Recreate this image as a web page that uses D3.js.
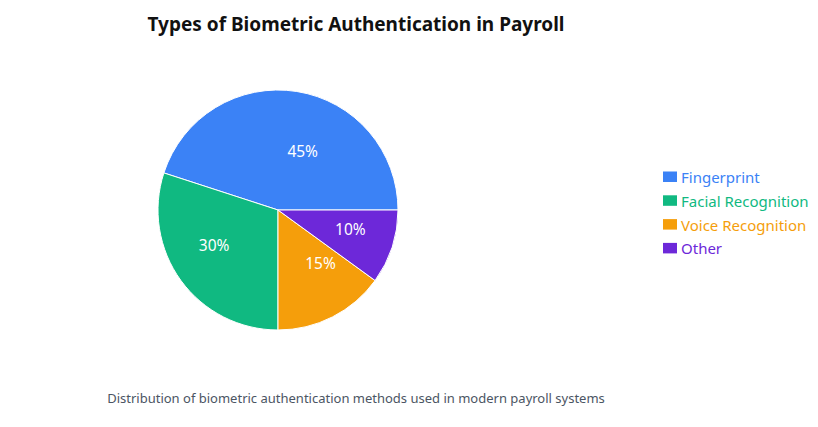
<!DOCTYPE html>
<html>
<head>
<meta charset="utf-8">
<script src="https://cdn.jsdelivr.net/npm/d3@7"></script>
<style>
  body { margin: 0; background: #fff; font-family: "Segoe UI", "Noto Sans", sans-serif; }
</style>
</head>
<body>
<svg id="mychart" width="818" height="427"></svg>
<script>
// chart data
const categories = ["Fingerprint", "Facial Recognition", "Voice Recognition", "Other"];
const values = [45, 30, 15, 10];
const colors = ["#3b82f6", "#10b981", "#f59e0b", "#6d28d9"];

const title = "Types of Biometric Authentication in Payroll";
const caption = "Distribution of biometric authentication methods used in modern payroll systems";

const width = 818, height = 427;
const cx = 278, cy = 210, outerR = 120;

const svg = d3.select("#mychart");

// title
svg.append("text")
  .attr("x", 356)
  .attr("y", 31)
  .attr("text-anchor", "middle")
  .attr("font-size", "19px")
  .attr("font-weight", "bold")
  .attr("fill", "#111")
  .text(title);

const data = categories.map((c, i) => ({ name: c, value: values[i], color: colors[i] }));

// slices start at 3 o'clock and go counter-clockwise
const pie = d3.pie()
  .value((d) => d.value)
  .sort(null)
  .startAngle(Math.PI / 2)
  .endAngle(Math.PI / 2 - 2 * Math.PI);

const arc = d3.arc().innerRadius(0).outerRadius(outerR);
const arcs = pie(data);

const g = svg.append("g").attr("transform", `translate(${cx},${cy})`);

g.selectAll(".slice")
  .data(arcs)
  .join("path")
  .attr("class", "slice")
  .attr("d", arc)
  .attr("fill", (d) => d.data.color)
  .attr("stroke", "#fff")
  .attr("stroke-width", 1);

// percentage labels at half the radius
const total = d3.sum(values);
g.selectAll(".pct")
  .data(arcs)
  .join("text")
  .attr("class", "pct")
  .each(function (d) {
    const mid = (d.startAngle + d.endAngle) / 2;
    const r = outerR * 0.5;
    const x = r * Math.sin(mid);
    const y = -r * Math.cos(mid);
    d3.select(this)
      .attr("x", x)
      .attr("y", y)
      .attr("text-anchor", x > 0 ? "start" : "end");
  })
  .attr("dominant-baseline", "central")
  .attr("font-size", "15.5px")
  .attr("fill", "#fff")
  .text((d) => Math.round((d.data.value / total) * 100) + "%");

// legend
const legend = svg.append("g").attr("transform", "translate(663,177)");
const rows = legend.selectAll(".row")
  .data(data)
  .join("g")
  .attr("class", "row")
  .attr("transform", (d, i) => `translate(0,${i * 23.8})`);

rows.append("rect")
  .attr("x", 0)
  .attr("y", -5.5)
  .attr("width", 14)
  .attr("height", 10.5)
  .attr("fill", (d) => d.color);

rows.append("text")
  .attr("x", 18)
  .attr("y", 0)
  .attr("dominant-baseline", "central")
  .attr("font-size", "15px")
  .attr("fill", (d) => d.color)
  .text((d) => d.name);

// caption
svg.append("text")
  .attr("x", 356)
  .attr("y", 398)
  .attr("text-anchor", "middle")
  .attr("dominant-baseline", "central")
  .attr("font-size", "13px")
  .attr("fill", "#4b5563")
  .text(caption);
</script>
</body>
</html>
